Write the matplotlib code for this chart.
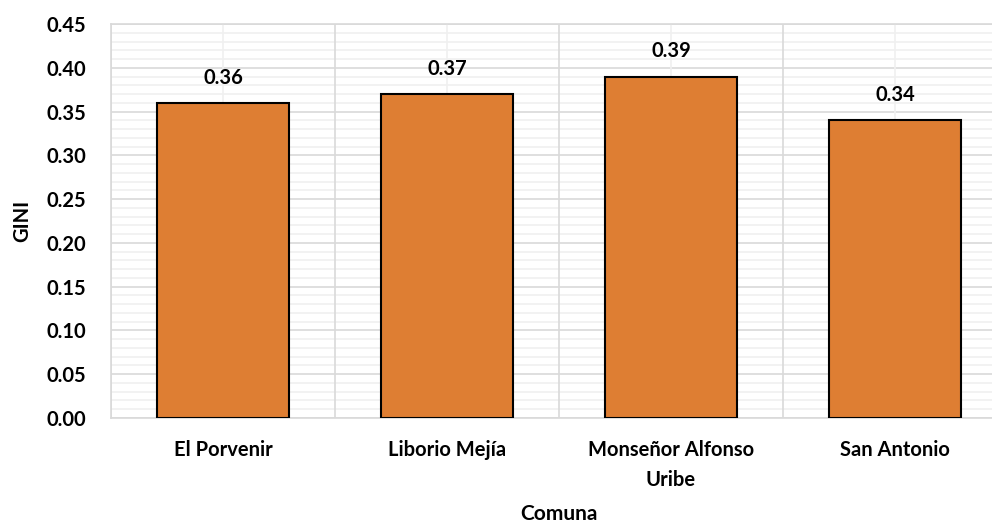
import matplotlib.pyplot as plt
import numpy as np
from matplotlib.ticker import MultipleLocator

comunas = ['El Porvenir', 'Liborio Mejía', 'Monseñor Alfonso\nUribe', 'San Antonio']
gini = [0.36, 0.37, 0.39, 0.34]

plt.rcParams['font.family'] = ['Lato', 'DejaVu Sans']
plt.rcParams['font.weight'] = 'bold'

fig = plt.figure(figsize=(9.92, 5.23), dpi=100)
ax = fig.add_axes([0.1119, 0.2008, 0.9032, 0.7533])

x = np.arange(len(comunas))
ax.bar(x, gini, width=0.59, color='#DE7E33', edgecolor='black', linewidth=1.5, zorder=3)

for xi, v in zip(x, gini):
    ax.annotate(f'{v:.2f}', (xi, v), xytext=(0, 11), textcoords='offset points',
                ha='center', va='bottom', fontsize=14.5, fontweight='bold')

ax.set_xlim(-0.5, len(comunas) - 0.5)
ax.set_ylim(0, 0.45)
ax.yaxis.set_major_locator(MultipleLocator(0.05))
ax.yaxis.set_minor_locator(MultipleLocator(0.01))
ax.set_yticklabels([f'{t:.2f}' for t in ax.get_yticks()])
ax.set_xticks(x)
ax.set_xticklabels(comunas, fontsize=14.5, fontweight='bold', linespacing=1.6)
ax.tick_params(axis='y', labelsize=14.5, length=0, pad=18, which='both')
ax.tick_params(axis='x', length=0, pad=16, which='both')

# grid: major at category edges / 0.05, minor at centers / 0.01
for xv in np.arange(-0.5, len(comunas) + 0.5, 1):
    ax.axvline(xv, color='#d9d9d9', lw=1.2, zorder=1)
for xv in x:
    ax.axvline(xv, color='#f0f0f0', lw=1.2, zorder=1)
ax.yaxis.grid(True, which='major', color='#d9d9d9', lw=1.2, zorder=1)
ax.yaxis.grid(True, which='minor', color='#f0f0f0', lw=1.2, zorder=0)
ax.set_axisbelow(True)

for s in ax.spines.values():
    s.set_color('#d9d9d9')
    s.set_linewidth(1.2)

ax.set_ylabel('GINI', fontsize=14.5, fontweight='bold', labelpad=10)
ax.set_xlabel('Comuna', fontsize=15, fontweight='bold', labelpad=10)

fig.savefig('out.png', dpi=100)
